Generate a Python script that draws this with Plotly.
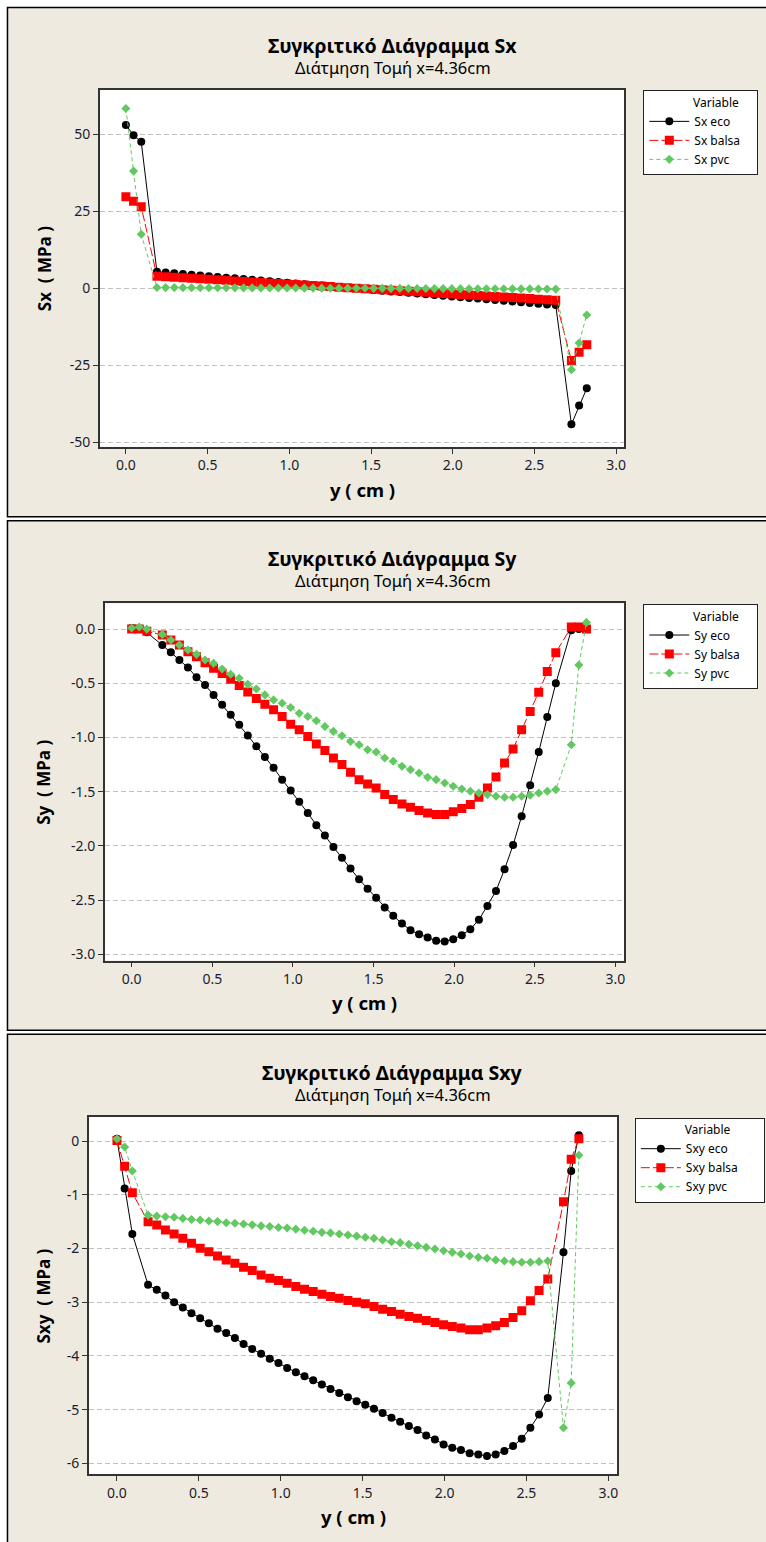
import plotly.graph_objects as go

W, H = 766, 1542

# ---------------------------------------------------------------- data
# positions through the section thickness (cm)
y_cm = [0.000, 0.047, 0.094,
        0.190, 0.243, 0.296, 0.349, 0.402, 0.455, 0.508, 0.561, 0.614, 0.667,
        0.720, 0.773, 0.826, 0.880, 0.933, 0.986, 1.039, 1.092, 1.145, 1.198,
        1.251, 1.304, 1.357, 1.410, 1.463, 1.516, 1.569, 1.622, 1.676, 1.729,
        1.782, 1.835, 1.888, 1.941, 1.994, 2.047, 2.100, 2.153, 2.206, 2.259,
        2.312, 2.365, 2.418, 2.471, 2.524, 2.577, 2.630,
        2.726, 2.773, 2.820]

# Sx (MPa)
sx_eco = [53.0, 49.6, 47.5,
          5.3, 5.07, 4.83, 4.6, 4.36, 4.13, 3.89, 3.66, 3.42, 3.19,
          2.95, 2.72, 2.48, 2.25, 2.01, 1.78, 1.54, 1.31, 1.07, 0.84,
          0.6, 0.37, 0.13, -0.1, -0.34, -0.57, -0.81, -1.04, -1.28, -1.51,
          -1.75, -1.98, -2.22, -2.45, -2.69, -2.92, -3.16, -3.39, -3.63, -3.86,
          -4.1, -4.33, -4.57, -4.8, -5.04, -5.27, -5.5,
          -44.2, -38.1, -32.5]
sx_balsa = [29.7, 28.2, 26.4,
            3.9, 3.73, 3.56, 3.39, 3.22, 3.05, 2.88, 2.71, 2.54, 2.37,
            2.2, 2.03, 1.86, 1.69, 1.53, 1.36, 1.19, 1.02, 0.85, 0.68,
            0.51, 0.34, 0.17, 0.0, -0.17, -0.34, -0.51, -0.68, -0.85, -1.02,
            -1.19, -1.36, -1.53, -1.69, -1.86, -2.03, -2.2, -2.37, -2.54, -2.71,
            -2.88, -3.05, -3.22, -3.39, -3.56, -3.73, -3.9,
            -23.5, -20.8, -18.4]
sx_pvc = [58.3, 38.0, 17.5,
          0.2, 0.19, 0.18, 0.17, 0.16, 0.15, 0.14, 0.13, 0.12, 0.11,
          0.1, 0.09, 0.08, 0.07, 0.06, 0.05, 0.04, 0.03, 0.02, 0.01,
          0.0, -0.01, -0.02, -0.03, -0.04, -0.05, -0.06, -0.07, -0.08, -0.1,
          -0.11, -0.12, -0.13, -0.14, -0.15, -0.16, -0.17, -0.18, -0.19, -0.2,
          -0.21, -0.22, -0.23, -0.24, -0.26, -0.28, -0.3,
          -26.5, -17.8, -8.7]

# Sy (MPa)
sy_eco = [0.01, 0.0, -0.03,
          -0.147, -0.214, -0.285, -0.355, -0.444, -0.515, -0.607, -0.699, -0.791, -0.883,
          -0.981, -1.082, -1.18, -1.28, -1.389, -1.49, -1.594, -1.696, -1.809, -1.904,
          -2.011, -2.11, -2.208, -2.309, -2.395, -2.48, -2.57, -2.646, -2.717, -2.778,
          -2.815, -2.845, -2.876, -2.882, -2.861, -2.824, -2.769, -2.683, -2.554, -2.416,
          -2.217, -1.993, -1.726, -1.441, -1.134, -0.812, -0.5,
          -0.01, 0.0, 0.0]
sy_balsa = [0.0, 0.0, -0.02,
            -0.055, -0.10, -0.147, -0.21, -0.255, -0.31, -0.36, -0.41, -0.463, -0.52,
            -0.58, -0.64, -0.693, -0.745, -0.806, -0.877, -0.929, -0.99, -1.06, -1.12,
            -1.19, -1.25, -1.32, -1.39, -1.43, -1.466, -1.527, -1.573, -1.613, -1.643,
            -1.674, -1.696, -1.711, -1.711, -1.686, -1.656, -1.619, -1.551, -1.466, -1.364,
            -1.236, -1.107, -0.929, -0.76, -0.582, -0.392, -0.217,
            0.02, 0.02, 0.0]
sy_pvc = [0.01, 0.02, 0.0,
          -0.049, -0.10, -0.147, -0.193, -0.233, -0.285, -0.316, -0.368, -0.417, -0.454,
          -0.509, -0.552, -0.607, -0.653, -0.684, -0.723, -0.776, -0.806, -0.846, -0.898,
          -0.944, -0.984, -1.036, -1.067, -1.113, -1.134, -1.19, -1.22, -1.266, -1.297,
          -1.328, -1.367, -1.389, -1.42, -1.45, -1.475, -1.496, -1.512, -1.527, -1.542,
          -1.551, -1.551, -1.542, -1.533, -1.512, -1.496, -1.481,
          -1.067, -0.331, 0.062]

# Sxy (MPa)
sxy_eco = [0.04, -0.885, -1.73,
           -2.677, -2.77, -2.876, -3.0, -3.098, -3.204, -3.297, -3.39, -3.494, -3.575,
           -3.668, -3.779, -3.872, -3.957, -4.05, -4.132, -4.224, -4.304, -4.378, -4.453,
           -4.533, -4.614, -4.688, -4.768, -4.842, -4.91, -4.985, -5.06, -5.152, -5.226,
           -5.306, -5.38, -5.479, -5.553, -5.646, -5.708, -5.751, -5.813, -5.832, -5.863,
           -5.832, -5.77, -5.677, -5.542, -5.338, -5.089, -4.781,
           -2.072, -0.557, 0.105]
sxy_balsa = [0.01, -0.47, -0.965,
             -1.503, -1.564, -1.657, -1.731, -1.812, -1.905, -1.998, -2.059, -2.14, -2.214,
             -2.276, -2.35, -2.412, -2.492, -2.554, -2.597, -2.647, -2.709, -2.758, -2.801,
             -2.851, -2.894, -2.925, -2.968, -3.0, -3.03, -3.08, -3.129, -3.173, -3.222,
             -3.265, -3.297, -3.34, -3.377, -3.42, -3.451, -3.482, -3.513, -3.513, -3.482,
             -3.439, -3.377, -3.284, -3.16, -2.975, -2.783, -2.566,
             -1.132, -0.34, 0.043]
sxy_pvc = [0.04, -0.111, -0.557,
           -1.379, -1.398, -1.41, -1.42, -1.44, -1.46, -1.47, -1.49, -1.5, -1.52,
           -1.53, -1.545, -1.56, -1.58, -1.59, -1.61, -1.62, -1.64, -1.66, -1.68,
           -1.7, -1.71, -1.73, -1.75, -1.77, -1.79, -1.812, -1.843, -1.874, -1.892,
           -1.923, -1.948, -1.979, -2.01, -2.041, -2.072, -2.103, -2.14, -2.165, -2.183,
           -2.214, -2.233, -2.245, -2.257, -2.257, -2.245, -2.233,
           -5.337, -4.502, -0.266]

x_ticks = [0.0, 0.5, 1.0, 1.5, 2.0, 2.5, 3.0]
x_tick_text = ["0.0", "0.5", "1.0", "1.5", "2.0", "2.5", "3.0"]
sx_ticks = [50, 25, 0, -25, -50]
sx_tick_text = ["50", "25", "0", "-25", "-50"]
sy_ticks = [0.0, -0.5, -1.0, -1.5, -2.0, -2.5, -3.0]
sy_tick_text = ["0.0", "-0.5", "-1.0", "-1.5", "-2.0", "-2.5", "-3.0"]
sxy_ticks = [0, -1, -2, -3, -4, -5, -6]
sxy_tick_text = ["0", "-1", "-2", "-3", "-4", "-5", "-6"]

titles = ["Συγκριτικό Διάγραμμα Sx", "Συγκριτικό Διάγραμμα Sy", "Συγκριτικό Διάγραμμα Sxy"]
subtitle = "Διάτμηση Τομή x=4.36cm"
y_titles = ["Sx  ( MPa )", "Sy  ( MPa )", "Sxy  ( MPa )"]
x_title = "y ( cm )"
legend_title = "Variable"
materials = ["eco", "balsa", "pvc"]
prefixes = ["Sx", "Sy", "Sxy"]

# ---------------------------------------------------------------- styling
FONT = "Noto Sans"
BEIGE = "#EEEAE0"
INK = "#1c1c2c"
GREEN = "#62C862"
NBSP = "\u00a0"
series_style = {
    "eco": dict(color="black", symbol="circle", size=8, dash="solid"),
    "balsa": dict(color="#FF0000", symbol="square", size=9, dash="9px,3px"),
    "pvc": dict(color=GREEN, symbol="diamond", size=7, dash="4px,3px"),
}

def px(x):
    return x / W

def py(y):
    return 1 - y / H

# panel geometry in page pixels; "pad" widens the legend box to the right
panels = [
    dict(box=(7.5, 7.5, 800, 518), plot=(100, 90, 626, 448),
         xr=[-0.16, 3.05], yr=[-51.5, 64.4], legend=(645, 90.5), pad=5,
         ticks=(sx_ticks, sx_tick_text), data=(sx_eco, sx_balsa, sx_pvc)),
    dict(box=(7.5, 522, 800, 1033), plot=(105, 605, 626, 963),
         xr=[-0.167, 3.055], yr=[-3.058, 0.237], legend=(645, 605.5), pad=5,
         ticks=(sy_ticks, sy_tick_text), data=(sy_eco, sy_balsa, sy_pvc)),
    dict(box=(7.5, 1037, 800, 1560), plot=(89, 1120, 619, 1478),
         xr=[-0.172, 3.055], yr=[-6.2, 0.445], legend=(636.5, 1120.5), pad=10,
         ticks=(sxy_ticks, sxy_tick_text), data=(sxy_eco, sxy_balsa, sxy_pvc)),
]

fig = go.Figure()
shapes = []
annotations = []
layout_axes = {}

for i, p in enumerate(panels):
    n = "" if i == 0 else str(i + 1)
    xa, ya = "x" + n, "y" + n
    leg = "legend" + n
    bx0, by0, bx1, by1 = p["box"]
    x0, y0, x1, y1 = p["plot"]

    # beige frame of the graph and white data region
    shapes.append(dict(type="rect", xref="paper", yref="paper", layer="below",
                       x0=px(bx0), x1=px(bx1), y0=py(by1), y1=py(by0),
                       fillcolor=BEIGE, line=dict(color="black", width=1.5)))
    shapes.append(dict(type="rect", xref="paper", yref="paper", layer="below",
                       x0=px(x0), x1=px(x1), y0=py(y1), y1=py(y0),
                       fillcolor="white", line=dict(width=0)))

    for name, vals in zip(materials, p["data"]):
        st = series_style[name]
        fig.add_trace(go.Scatter(
            x=y_cm, y=vals, mode="lines+markers",
            name=f"{prefixes[i]} {name}",
            xaxis=xa, yaxis=ya, legend=leg,
            line=dict(color=st["color"], width=1, dash=st["dash"]),
            marker=dict(color=st["color"], symbol=st["symbol"], size=st["size"],
                        line=dict(width=0)),
        ))

    tv, tt = p["ticks"]
    layout_axes["xaxis" + n] = dict(
        domain=[px(x0), px(x1)], range=p["xr"], anchor=ya,
        tickvals=x_ticks, ticktext=x_tick_text, ticks="outside", ticklen=5,
        tickcolor="#333", tickfont=dict(family=FONT, size=14, color=INK),
        showgrid=False, zeroline=False, showline=True, mirror=True,
        linecolor="#333", linewidth=1.5,
    )
    layout_axes["yaxis" + n] = dict(
        domain=[py(y1), py(y0)], range=p["yr"], anchor=xa,
        tickvals=tv, ticktext=tt, ticks="outside", ticklen=5,
        tickcolor="#333", tickfont=dict(family=FONT, size=14, color=INK),
        showgrid=True, gridcolor="#C0C0C0", gridwidth=1, griddash="5px,3px",
        zeroline=False, showline=True, mirror=True, linecolor="#333", linewidth=1.5,
    )

    lx, ly = p["legend"]
    layout_axes[leg] = dict(
        x=px(lx), y=py(ly), xanchor="left", yanchor="top",
        bgcolor="white", bordercolor="#222", borderwidth=1,
        font=dict(family=FONT, size=12, color="black"),
        title=dict(text=NBSP * 15 + legend_title + NBSP * p["pad"],
                   font=dict(family=FONT, size=12, color="black")),
        itemwidth=40, tracegroupgap=0,
    )

    # titles
    annotations.append(dict(text=f"<b>{titles[i]}</b>", xref="paper", yref="paper",
                            x=px(394), y=py(by0 + 38), showarrow=False,
                            xanchor="center", yanchor="middle",
                            font=dict(family=FONT, size=19.5, color="black")))
    annotations.append(dict(text=subtitle, xref="paper", yref="paper",
                            x=px(394), y=py(by0 + 60), showarrow=False,
                            xanchor="center", yanchor="middle",
                            font=dict(family=FONT, size=16.5, color="black")))
    # axis titles
    annotations.append(dict(text=f"<b>{x_title}</b>", xref="paper", yref="paper",
                            x=px((x0 + x1) / 2), y=py(by0 + 483), showarrow=False,
                            xanchor="center", yanchor="middle",
                            font=dict(family=FONT, size=18.5, color="black")))
    annotations.append(dict(text=f"<b>{y_titles[i]}</b>", xref="paper", yref="paper",
                            x=px(44), y=py((y0 + y1) / 2), showarrow=False,
                            textangle=-90, xanchor="center", yanchor="middle",
                            font=dict(family=FONT, size=17, color="black")))

fig.update_layout(
    width=W, height=H, margin=dict(l=0, r=0, t=0, b=0),
    paper_bgcolor="white", plot_bgcolor="white",
    showlegend=True, shapes=shapes, annotations=annotations,
    **layout_axes,
)

fig.write_html("out.html")
